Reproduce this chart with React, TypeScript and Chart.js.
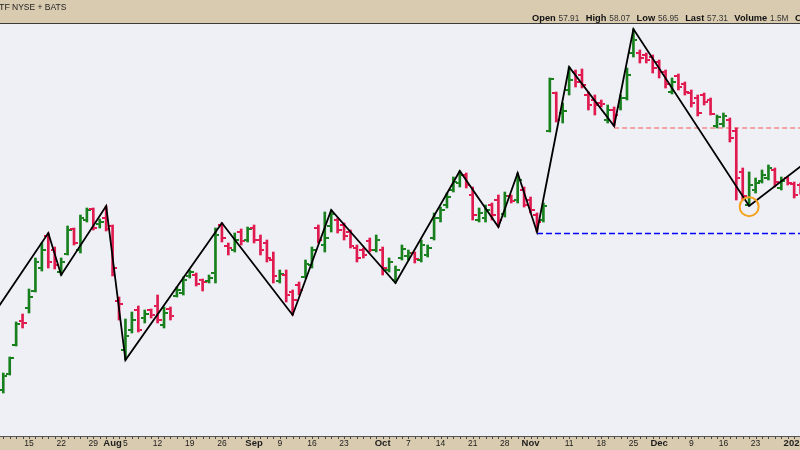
import React, { useEffect, useRef } from "react";
import { Chart, registerables } from "chart.js";

Chart.register(...registerables);

// ---------- calendar ----------
const firstDate = "2024-07-09";
const holidays = ["2024-06-19", "2024-07-04", "2024-09-02", "2024-11-28", "2024-12-25", "2025-01-01"];

// ---------- OHLC series (Jul 9 2024 .. Jan 3 2025, one value per trading day) ----------
const opens = [
  37.37, 38.97, 41.87, 44.27, 45.57, 47.27, 49.57, 52.77, 51.37, 49.17,
  50.97, 53.47, 51.37, 54.37, 55.47, 53.97, 54.57, 53.77, 46.27, 41.37,
  43.37, 45.37, 44.57, 45.37, 45.77, 43.87, 45.47, 46.77, 47.07, 48.77,
  48.87, 48.37, 48.27, 49.07, 53.87, 51.77, 51.37, 53.17, 52.37, 53.57,
  52.37, 52.07, 50.37, 48.27, 48.87, 47.17, 47.87, 48.67, 49.87, 53.57,
  51.87, 53.77, 54.37, 53.87, 53.17, 51.57, 51.37, 52.27, 51.37, 51.37,
  49.37, 48.37, 50.57, 50.77, 51.07, 50.37, 50.87, 52.57, 54.57, 55.87,
  57.37, 58.07, 58.87, 56.87, 54.37, 54.57, 55.87, 56.37, 54.97, 56.77,
  56.37, 57.37, 56.37, 54.87, 54.37, 63.27, 67.07, 65.07, 67.37, 69.17,
  68.87, 66.87, 66.37, 66.07, 64.37, 65.37, 65.67, 66.57, 71.07, 71.07,
  70.87, 70.67, 70.17, 69.17, 67.17, 68.77, 67.97, 67.07, 66.57, 66.87,
  66.37, 63.77, 63.97, 64.37, 63.27, 59.17, 55.87, 57.37, 58.27, 58.57,
  59.37, 57.57, 58.57, 57.97, 57.91,
];
const highs = [
  39.07, 40.67, 44.17, 44.97, 47.47, 50.57, 52.07, 53.07, 51.67, 50.57,
  53.77, 53.57, 54.87, 55.57, 55.57, 54.47, 55.77, 53.87, 46.67, 44.47,
  45.17, 45.77, 45.37, 45.47, 46.87, 45.67, 45.67, 47.67, 48.67, 49.37,
  49.07, 48.47, 48.87, 53.57, 54.07, 52.07, 53.07, 53.47, 53.67, 53.87,
  52.87, 52.37, 51.17, 49.37, 49.37, 47.37, 48.17, 50.37, 51.67, 53.87,
  55.17, 55.37, 54.57, 54.07, 53.37, 51.87, 51.57, 52.57, 52.87, 51.67,
  50.57, 49.77, 51.87, 51.37, 51.17, 52.37, 51.87, 55.07, 55.67, 57.07,
  58.67, 59.27, 59.07, 57.67, 55.57, 55.87, 56.07, 56.87, 57.17, 56.87,
  59.07, 57.67, 56.67, 55.07, 56.07, 68.57, 67.17, 66.07, 69.67, 69.37,
  69.47, 67.17, 66.87, 66.37, 65.87, 65.67, 66.87, 69.57, 73.47, 71.37,
  71.07, 70.87, 70.37, 69.37, 68.57, 68.97, 68.17, 67.37, 66.87, 67.07,
  66.57, 64.87, 65.07, 64.57, 63.57, 59.57, 59.17, 58.57, 59.37, 59.87,
  59.57, 58.67, 58.67, 58.17, 58.07,
];
const lows = [
  37.07, 38.87, 41.77, 43.57, 45.07, 47.17, 49.27, 49.57, 49.47, 48.87,
  50.87, 51.87, 51.07, 54.17, 53.37, 53.57, 53.27, 48.77, 44.37, 40.37,
  43.07, 43.17, 44.07, 44.57, 44.07, 43.57, 44.37, 46.67, 46.87, 48.57,
  47.77, 47.27, 48.07, 48.07, 52.17, 50.87, 51.17, 51.87, 52.17, 52.07,
  50.87, 50.17, 48.07, 48.07, 46.17, 44.87, 46.87, 48.57, 49.57, 52.07,
  51.17, 53.17, 53.07, 52.37, 51.57, 50.17, 50.57, 51.17, 51.17, 48.87,
  49.17, 48.07, 50.37, 50.37, 50.07, 50.17, 50.67, 52.37, 54.17, 55.57,
  57.17, 57.67, 57.57, 54.37, 54.17, 54.17, 54.37, 53.67, 54.67, 56.07,
  56.07, 55.67, 55.07, 53.17, 54.17, 63.17, 64.17, 64.07, 66.87, 67.67,
  67.57, 65.37, 64.87, 65.67, 64.07, 63.77, 65.37, 66.37, 70.67, 70.07,
  70.07, 69.07, 68.57, 67.57, 66.97, 67.37, 66.87, 65.67, 64.77, 65.87,
  64.87, 63.57, 63.67, 62.17, 56.37, 56.37, 55.77, 57.07, 58.07, 58.37,
  57.67, 57.37, 57.87, 56.57, 56.95,
];
const closes = [
  38.77, 40.57, 43.97, 44.07, 46.67, 50.17, 51.37, 50.17, 49.87, 50.17,
  53.37, 52.07, 54.57, 55.37, 53.57, 54.17, 53.47, 49.57, 45.97, 42.77,
  44.37, 43.37, 44.97, 44.87, 44.37, 45.07, 44.77, 47.37, 48.37, 49.17,
  47.97, 48.17, 48.57, 52.87, 52.57, 51.57, 52.37, 52.27, 53.47, 52.37,
  51.37, 50.57, 48.77, 48.97, 46.87, 46.37, 47.37, 49.97, 51.37, 52.37,
  52.57, 54.97, 53.37, 52.77, 51.77, 50.57, 50.87, 51.37, 52.37, 49.57,
  50.17, 49.37, 51.47, 51.07, 50.47, 51.87, 51.57, 54.57, 55.37, 56.67,
  58.17, 58.87, 57.87, 54.87, 55.07, 55.37, 54.87, 54.37, 56.77, 56.27,
  58.37, 55.87, 55.37, 54.17, 55.77, 68.47, 64.37, 65.27, 68.37, 68.17,
  67.87, 65.87, 65.87, 65.97, 65.37, 64.87, 66.57, 68.87, 72.37, 70.57,
  70.37, 69.57, 69.17, 67.97, 68.17, 67.67, 67.17, 66.07, 65.07, 66.17,
  64.97, 64.67, 64.77, 62.57, 58.57, 56.77, 57.87, 58.07, 58.87, 59.57,
  58.17, 58.27, 58.07, 56.87, 57.31,
];

// ---------- overlays ----------
const zigzagDates = [
  "2024-06-20", "2024-07-18", "2024-07-22", "2024-07-31", "2024-08-05", "2024-08-26",
  "2024-09-11", "2024-09-19", "2024-10-03", "2024-10-17", "2024-10-25", "2024-10-30",
  "2024-11-04", "2024-11-11", "2024-11-20", "2024-11-25", "2024-12-20", "2025-01-03",
];
const zigzagPrices = [
  34.97, 53.07, 48.87, 55.77, 40.37, 54.07, 44.87, 55.37, 48.07, 59.27, 53.67, 59.07,
  53.17, 69.67, 63.77, 73.47, 55.77, 59.72,
];
const levelStartDates = ["2024-11-04", "2024-11-20"];
const levelPrices = [53.02, 63.57];
const markDates = ["2024-12-20"];
const markPrices = [55.7];

// ---------- axis labels ----------
const tickDates = [
  "2024-07-15", "2024-07-22", "2024-07-29", "2024-08-01", "2024-08-05", "2024-08-12",
  "2024-08-19", "2024-08-26", "2024-09-03", "2024-09-09", "2024-09-16", "2024-09-23",
  "2024-10-01", "2024-10-07", "2024-10-14", "2024-10-21", "2024-10-28", "2024-11-01",
  "2024-11-11", "2024-11-18", "2024-11-25", "2024-12-02", "2024-12-09", "2024-12-16",
  "2024-12-23", "2025-01-02",
];
const tickLabels = [
  "15", "22", "29", "Aug", "5", "12", "19", "26", "Sep", "9", "16", "23",
  "Oct", "7", "14", "21", "28", "Nov", "11", "18", "25", "Dec", "9", "16", "23", "2025",
];

const tickerText = "TF";
const exchangeText = "NYSE + BATS";
const volumeText = "1.5M";
const changeText = "-0.60";

// ---------- helpers ----------
function buildCalendar(): string[] {
  const out: string[] = [];
  const d = new Date(Date.UTC(2024, 5, 1));
  const end = new Date(Date.UTC(2025, 0, 31));
  while (d <= end) {
    const wd = d.getUTCDay();
    const s = d.toISOString().slice(0, 10);
    if (wd !== 0 && wd !== 6 && holidays.indexOf(s) < 0) out.push(s);
    d.setUTCDate(d.getUTCDate() + 1);
  }
  return out;
}
const calendar = buildCalendar();
const base = calendar.indexOf(firstDate);
const dayIndex = (s: string) => calendar.indexOf(s) - base;
const dates = calendar.slice(base, base + opens.length);

const GREEN = "#17801d";
const RED = "#e01a4f";
const PLOT_BG = "#efeff6";
const BAND = "#d9cbb0";
const FONT = '"Liberation Sans", Arial, sans-serif';

function makeTick(color: string, left: boolean) {
  const c = document.createElement("canvas");
  c.width = 8;
  c.height = 2;
  const g = c.getContext("2d")!;
  g.fillStyle = color;
  g.fillRect(left ? 0 : 5, 0, 3, 2);
  return c;
}

const chromePlugin = {
  id: "chrome",
  beforeDraw(chart: any) {
    const { ctx, width, height } = chart;
    ctx.save();
    ctx.fillStyle = PLOT_BG;
    ctx.fillRect(0, 0, width, height);
    ctx.restore();
  },
  afterDraw(chart: any) {
    const { ctx, width, height, chartArea } = chart;
    const xs = chart.scales.x;
    ctx.save();
    // top band
    ctx.fillStyle = BAND;
    ctx.fillRect(0, 0, width, chartArea.top - 1);
    ctx.fillStyle = "#3c3c3c";
    ctx.fillRect(0, chartArea.top - 1, width, 1);
    // bottom band
    ctx.fillStyle = BAND;
    ctx.fillRect(0, chartArea.bottom, width, height - chartArea.bottom);
    ctx.fillStyle = "#555";
    ctx.fillRect(0, chartArea.bottom - 1, width, 1);
    // day ticks
    ctx.fillStyle = "#444";
    for (let i = 0; i < dates.length; i++) {
      const x = Math.round(xs.getPixelForValue(dayIndex(dates[i])));
      if (x >= 0 && x < width) ctx.fillRect(x, chartArea.bottom, 1, 2);
    }
    // labels
    ctx.textAlign = "center";
    ctx.textBaseline = "alphabetic";
    ctx.fillStyle = "#1c1c1c";
    tickDates.forEach((d, k) => {
      const x = xs.getPixelForValue(dayIndex(d));
      const lab = tickLabels[k];
      const bold = !/^\d{1,2}$/.test(lab);
      ctx.font = (bold ? "bold 9.5px " : "8.5px ") + FONT;
      ctx.fillText(lab, x, 446);
    });
    // header left
    ctx.textAlign = "left";
    ctx.fillStyle = "#222";
    ctx.font = "9px " + FONT;
    ctx.fillText(tickerText, -1, 10);
    ctx.font = "8.5px " + FONT;
    ctx.fillText(exchangeText, 12, 10);
    // header right
    const n = opens.length - 1;
    const items: [string, string][] = [
      ["Open", opens[n].toFixed(2)],
      ["High", highs[n].toFixed(2)],
      ["Low", lows[n].toFixed(2)],
      ["Last", closes[n].toFixed(2)],
      ["Volume", volumeText],
      ["Chg", changeText],
    ];
    let x = 532;
    items.forEach(([lab, val]) => {
      ctx.font = "bold 9.3px " + FONT;
      ctx.fillStyle = "#111";
      ctx.fillText(lab, x, 21);
      x += ctx.measureText(lab).width + 2.8;
      ctx.font = "8.3px " + FONT;
      ctx.fillStyle = "#333";
      ctx.fillText(val, x, 21);
      x += ctx.measureText(val).width + 6.5;
    });
    ctx.restore();
  },
};

export default function App() {
  const ref = useRef<HTMLCanvasElement>(null);
  useEffect(() => {
    const canvas = ref.current;
    if (!canvas) return;
    const gL = makeTick(GREEN, true), gR = makeTick(GREEN, false);
    const rL = makeTick(RED, true), rR = makeTick(RED, false);
    const isUp = (i: number) => closes[i] >= opens[i];
    const xi = dates.map((d) => dayIndex(d));
    const lastX = xi[xi.length - 1];

    const ranges = xi.map((x, i) => ({ x, y: [lows[i], highs[i]] }));
    const openPts = xi.map((x, i) => ({ x, y: opens[i] }));
    const closePts = xi.map((x, i) => ({ x, y: closes[i] }));
    const zigzag = zigzagDates.map((d, i) => ({ x: dayIndex(d), y: zigzagPrices[i] }));
    const level = (k: number) => [
      { x: dayIndex(levelStartDates[k]), y: levelPrices[k] },
      { x: lastX + 1, y: levelPrices[k] },
    ];
    const marks = markDates.map((d, i) => ({ x: dayIndex(d), y: markPrices[i] }));

    const chart = new Chart(canvas, {
      type: "bar",
      data: {
        datasets: [
          {
            type: "line", data: level(0), borderColor: "#0000ff", borderWidth: 1.4,
            borderDash: [6, 3], pointRadius: 0, order: 6, clip: 0,
          } as any,
          {
            type: "line", data: level(1), borderColor: "#f08a8a", borderWidth: 1.6,
            borderDash: [5, 3], pointRadius: 0, order: 6, clip: 0,
          } as any,
          {
            type: "bar", data: ranges as any, barThickness: 2, grouped: false,
            backgroundColor: xi.map((_, i) => (isUp(i) ? GREEN : RED)), order: 4,
          } as any,
          {
            type: "line", data: openPts, showLine: false, pointRadius: 3, order: 4,
            pointStyle: (c: any) => (isUp(c.dataIndex) ? gL : rL),
          } as any,
          {
            type: "line", data: closePts, showLine: false, pointRadius: 3, order: 4,
            pointStyle: (c: any) => (isUp(c.dataIndex) ? gR : rR),
          } as any,
          {
            type: "line", data: zigzag, borderColor: "#000", borderWidth: 1.8,
            pointRadius: 0, tension: 0, order: 2, clip: 0,
          } as any,
          {
            type: "line", data: marks, showLine: false, pointRadius: 9.5,
            pointBorderColor: "#f5a21c", pointBorderWidth: 2, pointBackgroundColor: "rgba(0,0,0,0)",
            order: 1,
          } as any,
        ],
      },
      options: {
        animation: false,
        responsive: false,
        maintainAspectRatio: false,
        events: [],
        layout: { autoPadding: false, padding: { top: 24, bottom: 13, left: 0, right: 0 } },
        scales: {
          x: { type: "linear", min: -0.51, max: 123.907, offset: false, bounds: "data", display: false, grid: { offset: false } },
          y: { type: "linear", min: 32.67, max: 73.97, display: false },
        },
        plugins: { legend: { display: false }, tooltip: { enabled: false }, title: { display: false } },
      } as any,
      plugins: [chromePlugin as any],
    });
    return () => chart.destroy();
  }, []);
  return (
    <div style={{ position: "fixed", left: 0, top: 0, width: 800, height: 450 }}>
      <canvas ref={ref} width={800} height={450} style={{ display: "block", width: 800, height: 450 }} />
    </div>
  );
}
